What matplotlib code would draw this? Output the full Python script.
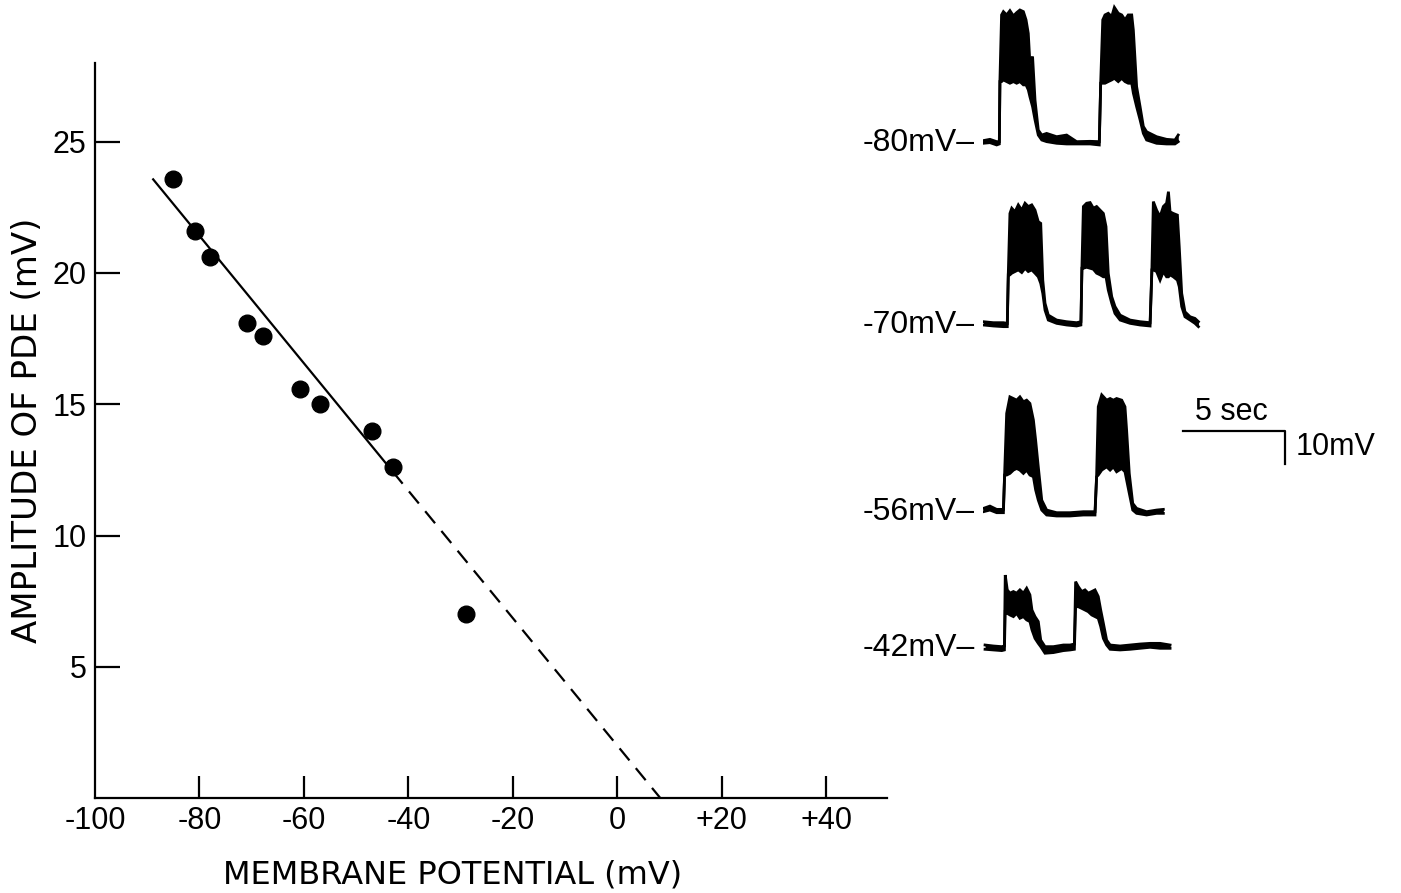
import numpy as np
import matplotlib
matplotlib.use("Agg")
import matplotlib.pyplot as plt

plt.rcParams['font.family'] = ['Liberation Sans', 'DejaVu Sans']

# ---- left panel: PDE amplitude vs membrane potential ----
membrane_mv = [-85.1, -80.9, -78.0, -70.9, -67.8, -60.8, -56.9, -47.0, -43.0, -29.0]
pde_amp_mv = [23.6, 21.6, 20.6, 18.1, 17.6, 15.6, 15.0, 14.0, 12.6, 7.0]

fit_x_start = -89.0      # solid part of fitted line begins
fit_y_start = 23.6
fit_x_split = -43.0      # solid -> dashed
fit_x_reversal = 8.2     # extrapolated zero crossing

x_ticks = [-100, -80, -60, -40, -20, 0, 20, 40]
x_tick_labels = ['-100', '-80', '-60', '-40', '-20', '0', '+20', '+40']
y_ticks = [5, 10, 15, 20, 25]

# ---- right panel: intracellular traces (time in s, potential in mV above baseline) ----
trace_labels = ['-80mV\u2013', '-70mV\u2013', '-56mV\u2013', '-42mV\u2013']

t80 = [0.0, 0.34, 0.67, 0.80, 0.83, 0.91, 1.00, 1.16, 1.32, 1.49, 1.65, 1.81, 1.98, 2.11, 2.22, 2.30,
       2.43, 2.55, 2.71, 2.88, 3.12, 3.61, 4.10, 4.59, 5.25, 5.70, 5.77, 5.87, 5.98, 6.14, 6.31, 6.44,
       6.63, 6.80, 6.96, 7.12, 7.29, 7.37, 7.53, 7.70, 7.86, 8.02, 8.51, 9.00, 9.41, 9.57]
lo80 = [0.0, 0.2, -0.5, -0.2, 18.7, 18.7, 19.2, 18.7, 18.2, 18.7, 18.2, 18.7, 17.7, 17.7, 16.2, 14.1,
        11.1, 7.1, 2.5, 1.0, 0.5, 0.0, -0.2, -0.2, -0.2, -0.5, 18.2, 18.2, 18.2, 18.7, 19.2, 19.7,
        18.7, 19.7, 18.7, 18.2, 18.2, 15.2, 11.1, 7.1, 3.0, 1.0, 0.0, -0.2, -0.2, 0.5]
hi80 = [0.8, 1.2, 0.5, 0.5, 19.2, 38.9, 39.9, 38.9, 40.2, 38.6, 39.6, 40.4, 39.9, 37.4, 33.3, 24.2,
        26.3, 13.1, 4.0, 2.5, 3.0, 2.0, 2.5, 0.5, 0.6, 0.5, 18.7, 37.4, 38.9, 39.4, 38.4, 41.2,
        39.4, 38.9, 37.4, 38.9, 38.9, 34.3, 17.2, 11.1, 5.1, 3.5, 2.0, 1.2, 1.0, 2.5]

t70 = [0.02, 0.51, 1.00, 1.19, 1.24, 1.32, 1.41, 1.57, 1.73, 1.90, 2.06, 2.22, 2.39, 2.55, 2.71, 2.83,
       2.93, 3.04, 3.20, 3.61, 4.10, 4.59, 4.80, 4.85, 4.92, 5.08, 5.25, 5.41, 5.57, 5.74, 5.90, 6.03,
       6.14, 6.31, 6.47, 6.72, 7.21, 7.70, 8.19, 8.28, 8.35, 8.51, 8.68, 8.84, 9.00, 9.09, 9.17, 9.33,
       9.53, 9.62, 9.74, 9.90, 10.15, 10.39, 10.56]
lo70 = [0.0, -0.3, -0.5, -0.5, 15.2, 15.2, 15.7, 16.2, 16.7, 15.9, 17.2, 16.2, 16.7, 15.7, 14.6, 12.6,
        9.6, 4.5, 1.5, 0.5, 0.0, -0.3, 0.0, 17.2, 17.2, 17.5, 17.2, 16.9, 15.7, 15.2, 14.6, 14.6,
        10.6, 6.6, 3.5, 1.5, 0.5, 0.0, -0.3, 16.7, 16.7, 16.2, 13.6, 16.2, 14.6, 14.6, 15.2, 14.6,
        13.6, 11.6, 5.6, 2.5, 1.5, 0.5, -0.5]
hi70 = [1.0, 0.7, 0.7, 0.5, 15.7, 33.8, 35.4, 34.3, 36.4, 34.8, 36.9, 35.9, 36.4, 34.8, 31.3, 30.8,
        13.6, 6.6, 3.0, 1.5, 1.0, 0.7, 1.0, 17.7, 35.9, 36.9, 37.1, 35.4, 35.9, 34.8, 33.8, 29.8,
        15.7, 8.6, 5.6, 3.0, 1.5, 1.0, 0.7, 17.2, 37.4, 34.8, 32.8, 35.9, 36.9, 40.4, 34.3, 33.8,
        33.3, 23.7, 9.6, 4.0, 2.5, 2.0, 1.0]

t56 = [0.02, 0.34, 0.67, 1.00, 1.06, 1.16, 1.32, 1.49, 1.65, 1.81, 1.98, 2.14, 2.30, 2.47, 2.58, 2.71,
       2.88, 3.12, 3.61, 4.26, 4.92, 5.49, 5.57, 5.65, 5.82, 6.06, 6.23, 6.39, 6.55, 6.80, 6.96, 7.04,
       7.17, 7.34, 7.53, 8.02, 8.51, 8.84]
lo56 = [0.0, 0.5, -0.3, -0.3, 11.1, 11.1, 11.6, 12.6, 13.1, 12.6, 11.6, 12.6, 11.1, 10.6, 6.6, 3.5,
        0.5, -1.0, -1.3, -1.3, -1.0, -1.0, 10.6, 11.1, 12.6, 13.6, 12.6, 13.6, 12.1, 13.1, 12.1, 9.6,
        5.6, 0.5, -0.5, -1.0, -0.5, -0.5]
hi56 = [1.0, 1.7, 0.7, 0.7, 11.6, 29.8, 34.8, 34.3, 33.8, 34.8, 33.3, 33.8, 32.8, 27.8, 21.7, 13.6,
        3.5, 0.5, -0.3, -0.3, 0.0, 0.0, 11.1, 31.8, 35.4, 33.8, 34.3, 33.8, 34.3, 33.8, 31.8, 24.7,
        11.6, 2.5, 1.0, 0.0, 0.5, 0.7]

t42 = [0.10, 0.51, 0.92, 1.05, 1.09, 1.19, 1.32, 1.49, 1.65, 1.81, 1.98, 2.14, 2.30, 2.40, 2.55, 2.71,
       2.83, 3.04, 3.45, 3.94, 4.27, 4.48, 4.54, 4.67, 4.84, 5.00, 5.16, 5.33, 5.49, 5.65, 5.77, 5.90,
       6.06, 6.23, 6.72, 7.21, 7.70, 8.19, 8.68, 9.17]
lo42 = [-0.3, -0.5, -0.7, -0.5, 11.6, 10.6, 10.1, 9.6, 10.6, 9.1, 9.6, 8.6, 8.1, 5.6, 3.0, 1.5,
        0.5, -1.5, -1.3, -0.7, -0.5, -0.3, 12.6, 12.6, 12.1, 11.6, 11.1, 10.1, 9.6, 9.1, 6.6, 3.0,
        1.0, -0.3, -0.5, -0.3, 0.0, 0.3, 0.0, 0.0]
hi42 = [1.0, 0.7, 0.5, 0.7, 22.2, 17.7, 16.7, 17.2, 16.7, 17.7, 16.7, 18.2, 16.2, 11.6, 9.6, 8.1,
        2.5, 0.5, 0.5, 1.0, 1.0, 1.3, 20.2, 18.7, 17.2, 17.7, 16.7, 17.2, 17.7, 15.7, 11.6, 7.6,
        2.5, 1.0, 0.7, 1.0, 1.3, 1.5, 1.5, 1.0]

traces = [(t80, lo80, hi80), (t70, lo70, hi70), (t56, lo56, hi56), (t42, lo42, hi42)]

scale_sec = 5
scale_mv = 10

# ---- figure ----
W, H = 1401, 893
fig = plt.figure(figsize=(W / 100, H / 100), dpi=100)

ax = fig.add_axes([95 / W, 1 - 798 / H, (887 - 95) / W, (798 - 63) / H])
ax.plot(membrane_mv, pde_amp_mv, 'o', color='black', markersize=12, zorder=3)

slope = -fit_y_start / (fit_x_reversal - fit_x_start)
fit = lambda x: fit_y_start + slope * (x - fit_x_start)
ax.plot([fit_x_start, fit_x_split], [fit(fit_x_start), fit(fit_x_split)], color='black', lw=1.6,
        solid_capstyle='butt')
ax.plot([fit_x_split, fit_x_reversal], [fit(fit_x_split), fit(fit_x_reversal)], color='black', lw=1.6,
        linestyle=(0, (7, 4.5)))

ax.set_xlim(-100, 51.6)
ax.set_ylim(0, 28)
ax.set_xticks(x_ticks)
ax.set_xticklabels(x_tick_labels)
ax.set_yticks(y_ticks)
ax.xaxis.get_major_ticks()[0].tick1line.set_visible(False)
ax.tick_params(axis='x', direction='in', length=16, width=1.6, pad=6, labelsize=22)
ax.tick_params(axis='y', direction='in', length=18, width=1.6, pad=6, labelsize=22)
for s in ['top', 'right']:
    ax.spines[s].set_visible(False)
for s in ['left', 'bottom']:
    ax.spines[s].set_linewidth(1.6)
ax.set_xlabel('MEMBRANE POTENTIAL (mV)', fontsize=23, family='DejaVu Sans')
ax.xaxis.set_label_coords(0.452, -0.084)
ax.set_ylabel('AMPLITUDE OF PDE (mV)', fontsize=24.5, family='DejaVu Sans', labelpad=6)

# traces panel: 20.4 px per second, 3.3 px per mV
px_s, px_mv = 20.4, 3.3
left_px, bottom_px = 983, 700
tax = fig.add_axes([left_px / W, 1 - bottom_px / H, (W - left_px) / W, bottom_px / H])
tax.set_xlim(0, (W - left_px) / px_s)
tax.set_ylim(0, bottom_px / px_mv)
tax.axis('off')

baseline_px = [143.3, 325, 511.7, 648.3]
for (t, lo, hi), label, bpx in zip(traces, trace_labels, baseline_px):
    off = (bottom_px - bpx) / px_mv
    lo_o = np.array(lo) + off
    hi_o = np.array(hi) + off
    tax.fill_between(t, lo_o, hi_o, color='black', lw=0)
    tax.plot(t, lo_o, color='black', lw=2.0, solid_joinstyle='miter')
    tax.plot(t, hi_o, color='black', lw=2.0, solid_joinstyle='miter')
    tax.text(-0.4, off, label, ha='right', va='center', fontsize=23, clip_on=False)

# scale bar
sb_x0 = (1183 - left_px) / px_s
sb_y0 = (bottom_px - 430.7) / px_mv
tax.plot([sb_x0, sb_x0 + scale_sec, sb_x0 + scale_sec],
         [sb_y0, sb_y0, sb_y0 - scale_mv], color='black', lw=1.6)
tax.text(sb_x0 + 2.35, sb_y0 + 1.0, '5 sec', ha='center', va='bottom', fontsize=22)
tax.text(sb_x0 + scale_sec + 0.5, sb_y0 - 4.8, '10mV', ha='left', va='center', fontsize=22)

fig.savefig('out.png', dpi=100)
